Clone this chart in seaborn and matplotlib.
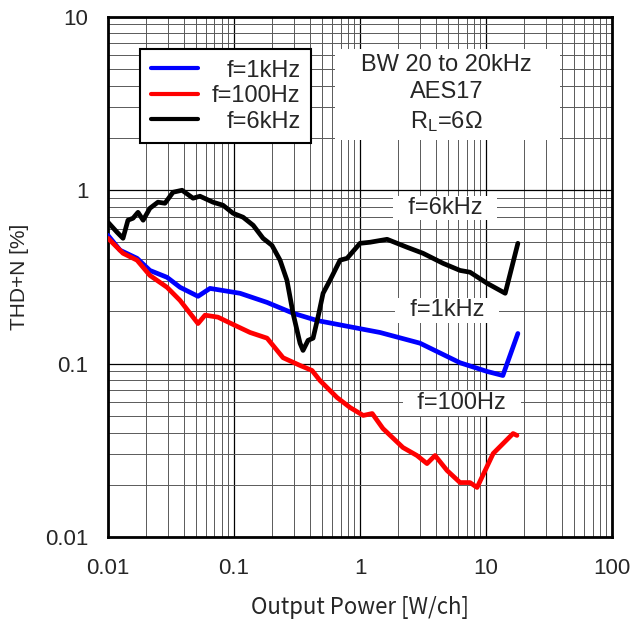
import matplotlib
matplotlib.use("Agg")
import matplotlib.pyplot as plt
from matplotlib.patches import Rectangle
import seaborn as sns
import pandas as pd

# values (output power W/ch, THD+N %)
p_1k = [0.01, 0.01245, 0.0170, 0.0215, 0.0294, 0.0373, 0.0518, 0.0645, 0.1116,
        0.183, 0.294, 0.456, 0.946, 1.44, 2.99, 6.22, 10.2, 13.6, 17.9]
thd_1k = [0.548, 0.450, 0.404, 0.344, 0.314, 0.275, 0.244, 0.271, 0.254,
          0.225, 0.195, 0.177, 0.160, 0.151, 0.131, 0.101, 0.090, 0.0853, 0.149]

p_100 = [0.01, 0.01315, 0.0170, 0.0215, 0.0294, 0.0373, 0.0518, 0.0589, 0.0746,
         0.0982, 0.134, 0.183, 0.245, 0.334, 0.416, 0.481, 0.657, 0.833, 1.06,
         1.25, 1.52, 2.19, 2.83, 3.40, 3.94, 4.90, 6.22, 7.46, 8.49, 11.4, 16.4, 17.6]
thd_100 = [0.527, 0.432, 0.394, 0.322, 0.275, 0.231, 0.170, 0.190, 0.185,
           0.168, 0.151, 0.140, 0.108, 0.0975, 0.0912, 0.0798, 0.0637, 0.0558, 0.0502,
           0.0515, 0.0422, 0.0328, 0.0295, 0.0265, 0.0295, 0.0242, 0.0206, 0.0206,
           0.0193, 0.0303, 0.0395, 0.0385]

p_6k = [0.01, 0.0118, 0.01315, 0.0144, 0.0158, 0.0173, 0.0190, 0.0215, 0.0249,
        0.0283, 0.0328, 0.0387, 0.0473, 0.0537, 0.0681, 0.0818, 0.0982, 0.118,
        0.142, 0.170, 0.200, 0.232, 0.263, 0.294, 0.334, 0.353, 0.387, 0.424,
        0.464, 0.509, 0.578, 0.694, 0.789, 1.0, 1.20, 1.64, 2.36, 3.16, 4.56,
        6.22, 7.46, 10.2, 14.2, 17.9]
thd_6k = [0.652, 0.571, 0.527, 0.670, 0.688, 0.744, 0.670, 0.785, 0.851,
          0.839, 0.971, 0.997, 0.897, 0.921, 0.851, 0.817, 0.735, 0.697,
          0.626, 0.527, 0.480, 0.394, 0.302, 0.195, 0.131, 0.119, 0.136, 0.140,
          0.185, 0.254, 0.302, 0.394, 0.404, 0.493, 0.500, 0.520, 0.468, 0.432, 0.378,
          0.344, 0.336, 0.290, 0.254, 0.493]

series = ["f=1kHz", "f=100Hz", "f=6kHz"]
colors = {"f=1kHz": "#0000ff", "f=100Hz": "#ff0000", "f=6kHz": "#000000"}

df = pd.concat([
    pd.DataFrame({"power": p_1k, "thd": thd_1k, "series": "f=1kHz"}),
    pd.DataFrame({"power": p_100, "thd": thd_100, "series": "f=100Hz"}),
    pd.DataFrame({"power": p_6k, "thd": thd_6k, "series": "f=6kHz"}),
])

sns.set_style("white")
plt.rcParams["font.family"] = ["Liberation Sans", "DejaVu Sans"]
plt.rcParams["mathtext.default"] = "regular"

fig = plt.figure(figsize=(6.32, 6.24), dpi=100)
ax = fig.add_axes([0.1709, 0.1394, 0.7975, 0.8341])

sns.lineplot(data=df, x="power", y="thd", hue="series", hue_order=series,
             palette=colors, estimator=None, sort=False, linewidth=3.4,
             legend=False, ax=ax, zorder=4)

ax.set_xscale("log")
ax.set_yscale("log")
ax.set_xlim(0.01, 100)
ax.set_ylim(0.01, 10)
ax.set_xticks([0.01, 0.1, 1, 10, 100])
ax.set_xticklabels(["0.01", "0.1", "1", "10", "100"])
ax.set_yticks([0.01, 0.1, 1, 10])
ax.set_yticklabels(["0.01", "0.1", "1", "10"])
ax.tick_params(axis="both", which="both", length=0, labelsize=16)
ax.tick_params(axis="x", pad=15)
ax.tick_params(axis="y", pad=14)

ax.grid(True, which="major", color="black", linewidth=0.9)
ax.grid(True, which="minor", color="0.35", linewidth=0.7)
for s in ax.spines.values():
    s.set_visible(True)
    s.set_color("black")
    s.set_linewidth(2)

ax.set_xlabel("Output Power [W/ch]", fontsize=16, labelpad=12,
              family=["Noto Sans CJK JP", "DejaVu Sans"])
ax.set_ylabel("THD+N [%]", fontsize=15, labelpad=12)

# condition box
ax.add_patch(Rectangle((0.450, 0.763), 0.447, 0.175, transform=ax.transAxes,
                       facecolor="white", edgecolor="none", zorder=3))
ax.text(0.672, 0.851, "BW 20 to 20kHz\nAES17\nR$_{L}$=6Ω", transform=ax.transAxes,
        ha="center", va="center", fontsize=17, linespacing=1.3, zorder=5)

# curve labels
label_pos = {"f=6kHz": (0.669, 0.632), "f=1kHz": (0.673, 0.436), "f=100Hz": (0.702, 0.257)}
for name, (lx, ly) in label_pos.items():
    ax.text(lx, ly, "  " + name + "  ", transform=ax.transAxes, ha="center", va="center",
            fontsize=17, zorder=5,
            bbox=dict(facecolor="white", edgecolor="none", pad=1))

handles = ax.get_lines()[:3]
leg = ax.legend(handles, series, loc="upper left", bbox_to_anchor=(0.0635, 0.9376),
                borderaxespad=0, fontsize=17, handlelength=2.0, handletextpad=0.6,
                labelspacing=0.15, borderpad=0.45, fancybox=False, framealpha=1,
                edgecolor="black")
leg.get_frame().set_linewidth(1.5)
for h in leg.legend_handles:
    h.set_linewidth(3)

# right-align the legend labels
fig.canvas.draw()
r = fig.canvas.get_renderer()
texts = leg.get_texts()
widths = [t.get_window_extent(r).width for t in texts]
w = max(widths)
for t, wt in zip(texts, widths):
    t.set_position((w - wt, 0))

fig.savefig("out.png", dpi=100)
plt.close(fig)
